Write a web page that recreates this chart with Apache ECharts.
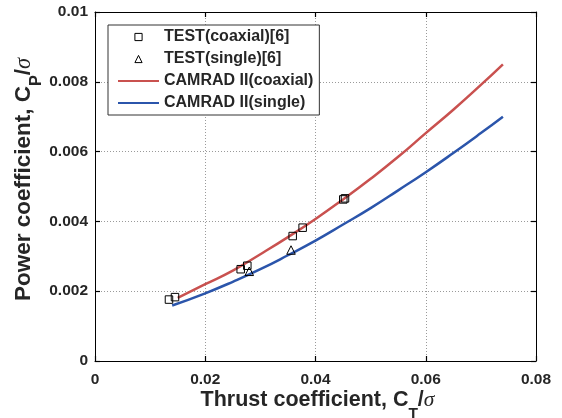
<!DOCTYPE html>
<html>
<head>
<meta charset="utf-8">
<script src="https://cdn.jsdelivr.net/npm/echarts@6/dist/echarts.min.js"></script>
<style>
html,body{margin:0;padding:0;background:#fff;}
#c{width:562px;height:418px;}
</style>
</head>
<body>
<div id="c"></div>
<script>
// ---- data ----
const testCoaxialX = [0.01342, 0.01451, 0.02643, 0.02763, 0.03586, 0.03767, 0.04504, 0.04535];
const testCoaxialY = [0.00176, 0.00183, 0.00263, 0.00273, 0.00358, 0.00382, 0.00463, 0.00466];
const testSingleX = [0.02799, 0.03556];
const testSingleY = [0.00257, 0.00318];
const camradCoaxialX = [0.0150, 0.020, 0.025, 0.030, 0.035, 0.040, 0.045, 0.050, 0.055, 0.060, 0.065, 0.070, 0.074];
const camradCoaxialY = [0.00181, 0.00220, 0.00259, 0.00306, 0.00355, 0.00407, 0.00463, 0.00522, 0.00585, 0.00653, 0.00720, 0.00791, 0.00850];
const camradSingleX = [0.0140, 0.020, 0.025, 0.030, 0.035, 0.040, 0.045, 0.050, 0.055, 0.060, 0.065, 0.070, 0.074];
const camradSingleY = [0.00159, 0.00194, 0.00227, 0.00263, 0.00303, 0.00345, 0.00391, 0.00438, 0.00489, 0.00541, 0.00596, 0.00653, 0.00700];
const xTickValues = [0, 0.02, 0.04, 0.06, 0.08];
const xTickLabels = ['0', '0.02', '0.04', '0.06', '0.08'];
const yTickValues = [0, 0.002, 0.004, 0.006, 0.008, 0.01];
const yTickLabels = ['0', '0.002', '0.004', '0.006', '0.008', '0.01'];
const seriesNames = ['TEST(coaxial)[6]', 'TEST(single)[6]', 'CAMRAD II(coaxial)', 'CAMRAD II(single)'];

const zip = (xs, ys) => xs.map((x, i) => [x, ys[i]]);
const lab = (vals, labels) => v => {
  for (let i = 0; i < vals.length; i++) if (Math.abs(vals[i] - v) < 1e-9) return labels[i];
  return '';
};

const FONT = 'Liberation Sans, Arial, sans-serif';
const TXT = '#262626';
const RED = '#C9514F';
const BLUE = '#2B55AB';

function nameRich(fs) {
  return {
    a: { fontSize: fs, fontWeight: 'bold', fontFamily: FONT, color: TXT, lineHeight: 42 },
    s: { fontSize: fs * 0.72, fontWeight: 'bold', fontFamily: FONT, color: TXT, verticalAlign: 'bottom' },
    g: { fontSize: fs, fontStyle: 'italic', fontFamily: 'Liberation Serif, serif', color: TXT }
  };
}

const axisCommon = {
  type: 'value',
  axisLine: { show: true, onZero: false, lineStyle: { color: '#000', width: 1 } },
  axisTick: { show: true, inside: true, length: 5, lineStyle: { color: '#000', width: 1.2 } },
  splitLine: { show: false }
};

const chart = echarts.init(document.getElementById('c'), null, { renderer: 'canvas' });
chart.setOption({
  animation: false,
  backgroundColor: '#fff',
  grid: { left: 95, right: 26, top: 12, bottom: 57, containLabel: false, outerBoundsMode: 'none' },
  xAxis: [
    Object.assign({}, axisCommon, {
      position: 'bottom', min: 0, max: 0.08, interval: 0.02,
      axisLabel: { show: true, margin: 11, fontSize: 15.5, fontWeight: 'bold', fontFamily: FONT, color: TXT, formatter: lab(xTickValues, xTickLabels) },
      splitLine: { show: true, lineStyle: { color: '#9a9a9a', type: [1, 2], width: 1 } },
      name: '{a|Thrust coefficient, C}{s|T}{a|/}{g|σ}',
      nameLocation: 'middle', nameGap: 18, nameMoveOverlap: false,
      nameTextStyle: { rich: nameRich(21.5), padding: [0, 0, 0, 4] }
    }),
    Object.assign({}, axisCommon, {
      position: 'top', min: 0, max: 0.08, interval: 0.02,
      axisLabel: { show: false }
    })
  ],
  yAxis: [
    Object.assign({}, axisCommon, {
      position: 'left', min: 0, max: 0.01, interval: 0.002,
      axisLabel: { show: true, margin: 7, fontSize: 15.5, fontWeight: 'bold', fontFamily: FONT, color: TXT, formatter: lab(yTickValues, yTickLabels) },
      splitLine: { show: true, lineStyle: { color: '#9a9a9a', type: [1, 2], width: 1 } },
      name: '{a|Power coefficient, C}{s|P}{a|/}{g|σ}',
      nameLocation: 'middle', nameGap: 50, nameMoveOverlap: false,
      nameTextStyle: { rich: nameRich(22.5), padding: [0, 0, 0, 14] }
    }),
    Object.assign({}, axisCommon, {
      position: 'right', min: 0, max: 0.01, interval: 0.002,
      axisLabel: { show: false }
    })
  ],
  legend: {
    orient: 'vertical', left: 108, top: 25,
    padding: [4, 6, 4, 9],
    borderColor: '#333', borderWidth: 1, backgroundColor: '#fff',
    itemWidth: 41, itemHeight: 9, itemGap: 6,
    textStyle: { fontSize: 16, fontWeight: 'bold', fontFamily: FONT, color: TXT, lineHeight: 16 },
    data: [
      { name: seriesNames[0], itemStyle: { color: 'transparent', borderColor: '#000', borderWidth: 1 } },
      { name: seriesNames[1], itemStyle: { color: 'transparent', borderColor: '#000', borderWidth: 1 } },
      { name: seriesNames[2], itemStyle: { color: 'transparent', borderWidth: 0, opacity: 0 } },
      { name: seriesNames[3], itemStyle: { color: 'transparent', borderWidth: 0, opacity: 0 } }
    ]
  },
  series: [
    {
      name: seriesNames[2], type: 'line', smooth: true, symbol: 'none',
      data: zip(camradCoaxialX, camradCoaxialY),
      itemStyle: { color: RED },
      lineStyle: { color: RED, width: 2.5 }, z: 2
    },
    {
      name: seriesNames[3], type: 'line', smooth: true, symbol: 'none',
      data: zip(camradSingleX, camradSingleY),
      itemStyle: { color: BLUE },
      lineStyle: { color: BLUE, width: 2.5 }, z: 2
    },
    {
      name: seriesNames[0], type: 'line', symbol: 'rect', symbolSize: 7.5, showSymbol: true,
      data: zip(testCoaxialX, testCoaxialY),
      itemStyle: { color: 'transparent', borderColor: '#000', borderWidth: 1 },
      lineStyle: { width: 0, opacity: 0 }, z: 3
    },
    {
      name: seriesNames[1], type: 'line', symbol: 'triangle', symbolSize: 8.5, showSymbol: true,
      data: zip(testSingleX, testSingleY),
      itemStyle: { color: 'transparent', borderColor: '#000', borderWidth: 1 },
      lineStyle: { width: 0, opacity: 0 }, z: 3
    }
  ]
});
</script>
</body>
</html>
